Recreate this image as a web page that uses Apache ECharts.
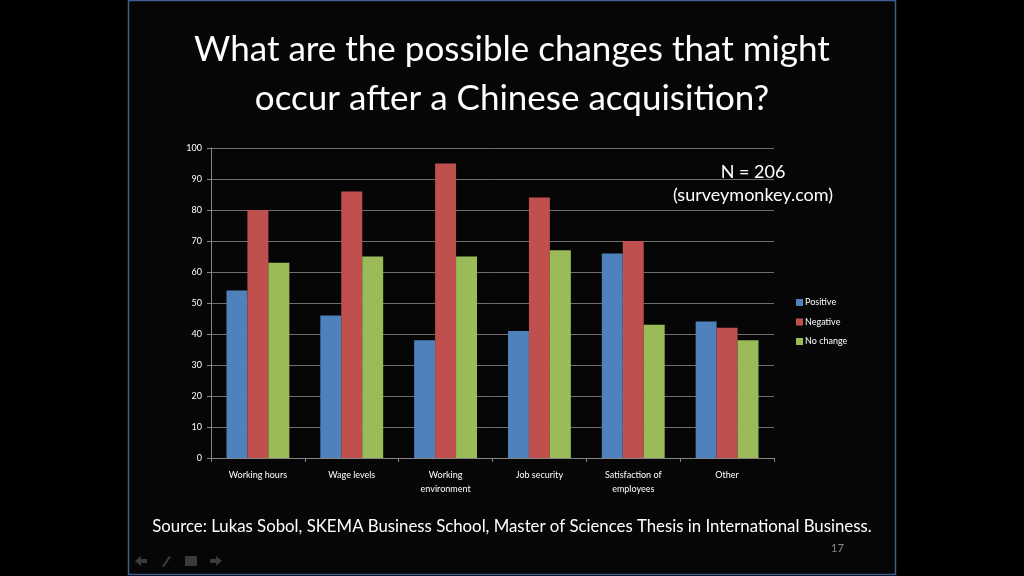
<!DOCTYPE html>
<html>
<head>
<meta charset="utf-8">
<script src="https://cdn.jsdelivr.net/npm/echarts@6/dist/echarts.min.js"></script>
<style>
  html, body { margin: 0; padding: 0; background: #000; }
  #chart { width: 1024px; height: 576px; }
</style>
</head>
<body>
<div id="chart"></div>
<script>
// 分类与数据
var categories = ["Working hours", "Wage levels", "Working\nenvironment", "Job security", "Satisfaction of\nemployees", "Other"];
var positive = [54, 46, 38, 41, 66, 44];
var negative = [80, 86, 95, 84, 70, 42];
var noChange = [63, 65, 65, 67, 43, 38];
var seriesNames = ["Positive", "Negative", "No change"];

var font = "Lato, 'Open Sans', sans-serif";
var myChart = echarts.init(document.getElementById("chart"));

var option = {
  backgroundColor: "#000",
  textStyle: { fontFamily: font },
  title: {
    text: "What are the possible changes that might\noccur after a Chinese acquisition?",
    left: "center",
    top: 20,
    textStyle: {
      color: "#fff",
      fontSize: 35,
      fontWeight: "normal",
      lineHeight: 49,
      fontFamily: font,
    },
  },
  legend: {
    orient: "vertical",
    left: 791,
    top: 293,
    itemWidth: 7,
    itemHeight: 7,
    itemGap: 10.5,
    icon: "rect",
    textStyle: { color: "#fff", fontSize: 9, padding: [0, 0, 0, -3] },
    data: seriesNames,
  },
  grid: {
    left: 211,
    right: 250,
    top: 148,
    bottom: 118,
  },
  xAxis: {
    type: "category",
    data: categories,
    axisLine: { lineStyle: { color: "#868686" } },
    axisTick: { show: true, length: 4, lineStyle: { color: "#868686" } },
    axisLabel: {
      color: "#fff",
      fontSize: 9,
      lineHeight: 14,
      margin: 10,
      interval: 0,
    },
  },
  yAxis: {
    type: "value",
    min: 0,
    max: 100,
    interval: 10,
    axisLine: { show: true, lineStyle: { color: "#868686" } },
    axisTick: { show: true, length: 4, lineStyle: { color: "#868686" } },
    axisLabel: { color: "#fff", fontSize: 9, margin: 9 },
    splitLine: { lineStyle: { color: "#6e6e6e" } },
  },
  series: [
    {
      name: seriesNames[0],
      type: "bar",
      data: positive,
      barGap: "0%",
      barCategoryGap: "33%",
      itemStyle: { color: "#4f81bd" },
    },
    {
      name: seriesNames[1],
      type: "bar",
      data: negative,
      barGap: "0%",
      barCategoryGap: "33%",
      itemStyle: { color: "#c0504d" },
    },
    {
      name: seriesNames[2],
      type: "bar",
      data: noChange,
      barGap: "0%",
      barCategoryGap: "33%",
      itemStyle: { color: "#9bbb59" },
    },
  ],
  graphic: [
    // 幻灯片边框
    {
      type: "rect",
      z: -1,
      shape: { x: 128.5, y: 0.5, width: 767, height: 574 },
      style: { fill: "#060606", stroke: "#3d5e8e", lineWidth: 1.5 },
    },
    {
      type: "text",
      x: 753,
      y: 163,
      style: { text: "N = 206", fill: "#fff", fontSize: 18, align: "center", fontFamily: font },
    },
    {
      type: "text",
      x: 753,
      y: 186,
      style: { text: "(surveymonkey.com)", fill: "#fff", fontSize: 18, align: "center", fontFamily: font },
    },
    {
      type: "text",
      left: "center",
      top: 518,
      style: {
        text: "Source: Lukas Sobol, SKEMA Business School, Master of Sciences Thesis in International Business.",
        fill: "#fff",
        fontSize: 16.8,
        fontFamily: font,
      },
    },
    {
      type: "text",
      left: 831,
      top: 543,
      style: { text: "17", fill: "#8a8a8a", fontSize: 11, fontFamily: font },
    },
    // 左下角导航图标
    {
      type: "polygon",
      shape: { points: [[135, 561], [141, 556], [141, 559], [147, 559], [147, 563], [141, 563], [141, 566]] },
      style: { fill: "#3a3a3a" },
    },
    {
      type: "polygon",
      shape: { points: [[162, 566], [169, 556], [171, 557], [164, 567]] },
      style: { fill: "#3a3a3a" },
    },
    {
      type: "rect",
      shape: { x: 185, y: 556, width: 12, height: 10 },
      style: { fill: "#3a3a3a" },
    },
    {
      type: "polygon",
      shape: { points: [[222, 561], [216, 556], [216, 559], [210, 559], [210, 563], [216, 563], [216, 566]] },
      style: { fill: "#3a3a3a" },
    },
  ],
};

myChart.setOption(option);
window.addEventListener("resize", () => {
  myChart.resize();
});
</script>
</body>
</html>
